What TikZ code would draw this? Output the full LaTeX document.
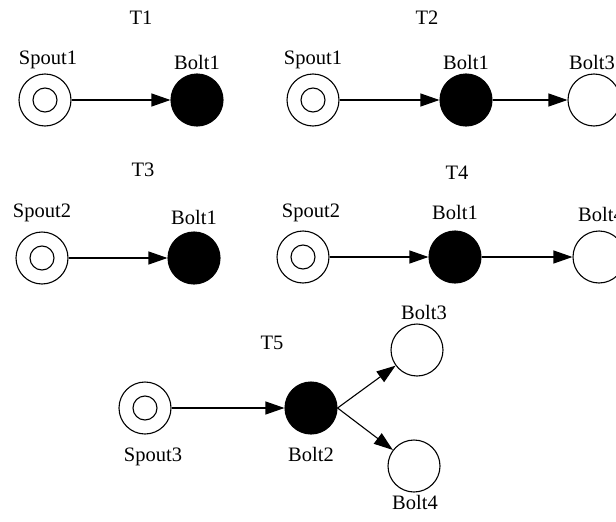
\documentclass[tikz,border=0pt]{standalone}
\usepackage{fontspec}
\setmainfont{Liberation Serif}
\usetikzlibrary{arrows.meta}
\tikzset{
  place/.style={circle,draw,line width=1.1pt,minimum size=52pt,inner sep=0pt},
  spout/.style={place,path picture={\draw[line width=1.1pt] (path picture bounding box.center) circle (12pt);}},
  bolt/.style={place,fill=black},
  empty/.style={place,fill=white},
  lbl/.style={inner sep=0pt,font=\fontsize{20.5}{24}\selectfont},
  arc/.style={line width=1.1pt,-{Triangle[length=19pt,width=13pt]}}
}
\begin{document}
\begin{tikzpicture}[x=1pt,y=-1pt]
\useasboundingbox (0,0) rectangle (616,522);
% T1
\node[lbl] (t1) at (141,18) {T1};
\node[spout] (s1a) at (45,100) {};
\node[bolt] (b1a) at (197,100) {};
\node[lbl] (ls1a) at (48,60) {Spout1};
\node[lbl] (lb1a) at (197,62) {Bolt1};
\draw[arc] (s1a) -- (b1a);
% T2
\node[lbl] (t2) at (427,18) {T2};
\node[spout] (s1b) at (313,100) {};
\node[bolt] (b1b) at (466,100) {};
\node[empty] (b3b) at (594,100) {};
\node[lbl] (ls1b) at (313,60) {Spout1};
\node[lbl] (lb1b) at (466,62) {Bolt1};
\node[lbl] (lb3b) at (592,62) {Bolt3};
\draw[arc] (s1b) -- (b1b);
\draw[arc] (b1b) -- (b3b);
% T3
\node[lbl] (t3) at (143,170) {T3};
\node[spout] (s2a) at (42,258) {};
\node[bolt] (b1c) at (194,258) {};
\node[lbl] (ls2a) at (42,213) {Spout2};
\node[lbl] (lb1c) at (194,217) {Bolt1};
\draw[arc] (s2a) -- (b1c);
% T4
\node[lbl] (t4) at (457,173) {T4};
\node[spout] (s2b) at (303,257) {};
\node[bolt] (b1d) at (455,257) {};
\node[empty] (b4d) at (599,257) {};
\node[lbl] (ls2b) at (311,213) {Spout2};
\node[lbl] (lb1d) at (455,212) {Bolt1};
\node[lbl] (lb4d) at (601,214) {Bolt4};
\draw[arc] (s2b) -- (b1d);
\draw[arc] (b1d) -- (b4d);
% T5
\node[lbl] (t5) at (272,343) {T5};
\node[spout] (s3) at (145,408) {};
\node[bolt] (b2) at (311,408) {};
\node[empty] (b3e) at (417,350) {};
\node[empty] (b4e) at (414,466) {};
\node[lbl] (ls3) at (153,457) {Spout3};
\node[lbl] (lb2) at (311,454) {Bolt2};
\node[lbl] (lb3e) at (424,312) {Bolt3};
\node[lbl] (lb4e) at (415,502) {Bolt4};
\draw[arc] (s3) -- (b2);
\draw[arc] (b2.east) -- (b3e);
\draw[arc] (b2.east) -- (b4e);
\end{tikzpicture}
\end{document}
